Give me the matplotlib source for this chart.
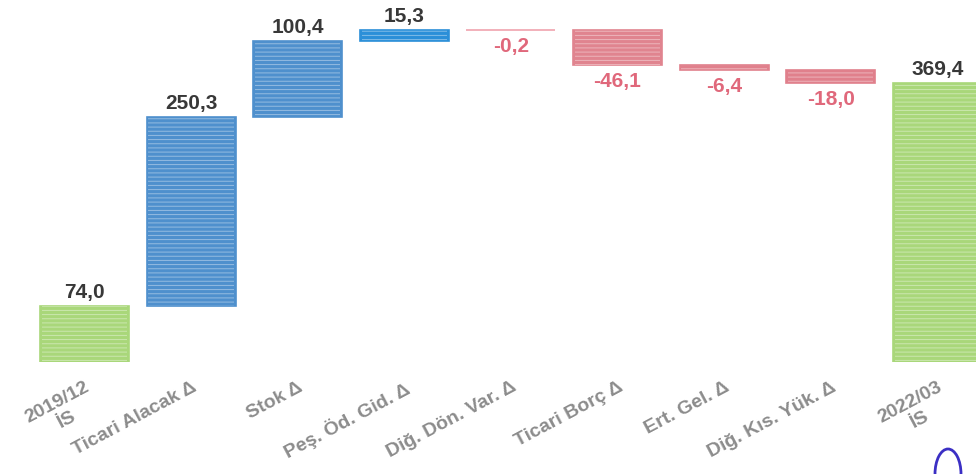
import matplotlib
matplotlib.use("Agg")
import matplotlib.pyplot as plt
from matplotlib.patches import Arc

# waterfall: opening balance, changes, closing balance
categories = ["2019/12\nİS", "Ticari Alacak Δ", "Stok Δ", "Peş. Öd. Gid. Δ",
              "Diğ. Dön. Var. Δ", "Ticari Borç Δ", "Ert. Gel. Δ",
              "Diğ. Kıs. Yük. Δ", "2022/03\nİS"]
values = [74.0, 250.3, 100.4, 15.3, -0.2, -46.1, -6.4, -18.0, 369.4]
is_total = [True, False, False, False, False, False, False, False, True]
bar_colors = ["#a9d77a", "#4f90cd", "#4f90cd", "#2b8fd8", "#f0a3ae",
              "#e0848f", "#e0808c", "#e0808c", "#a9d77a"]

plt.rcParams["font.family"] = ["Liberation Sans", "DejaVu Sans"]
plt.rcParams["hatch.linewidth"] = 0.7

fig = plt.figure(figsize=(9.76, 4.74), dpi=100)
ax = fig.add_axes([0, 0.2363, 1, 0.7637])

x = list(range(len(values)))
bottoms, heights = [], []
running = 0.0
for v, tot in zip(values, is_total):
    if tot:
        bottoms.append(0.0)
        heights.append(v)
        running = v
    else:
        bottoms.append(running if v >= 0 else running + v)
        heights.append(abs(v))
        running += v

ax.bar(x, heights, bottom=bottoms, width=0.835, color=bar_colors,
       edgecolor=bar_colors, linewidth=1.2, zorder=2)
# faint horizontal streaks like in the scanned original
ax.bar(x, heights, bottom=bottoms, width=0.80, color="none",
       edgecolor="white", hatch="----", linewidth=0, alpha=0.4, zorder=3)

for xi, v, b, h in zip(x, values, bottoms, heights):
    txt = f"{v:.1f}".replace(".", ",")
    if v >= 0:
        ax.annotate(txt, (xi, b + h), xytext=(0, 3), textcoords="offset points",
                    ha="center", va="bottom", fontsize=15,
                    fontweight="bold", color="#383838")
    else:
        ax.annotate(txt, (xi, b), xytext=(0, -5), textcoords="offset points",
                    ha="center", va="top", fontsize=15,
                    fontweight="bold", color="#e0687b")

ax.set_xlim(-0.793, 8.363)
ax.set_ylim(0, 479.5)
ax.set_xticks(x)
ax.set_xticklabels(categories, rotation=28, ha="right", va="top",
                   rotation_mode="anchor", fontsize=14, fontweight="bold",
                   color="#8c8c8c", multialignment="center")
ax.tick_params(axis="x", length=0, pad=12)
ax.set_yticks([])
for s in ax.spines.values():
    s.set_visible(False)

# pen mark at the lower right corner of the scan
fig.add_artist(Arc((948 / 976, 0.0), 26 / 976, 50 / 474, theta1=0, theta2=180,
                   transform=fig.transFigure, color="#3b2fc4", lw=2))

fig.savefig("out.png", dpi=100)
